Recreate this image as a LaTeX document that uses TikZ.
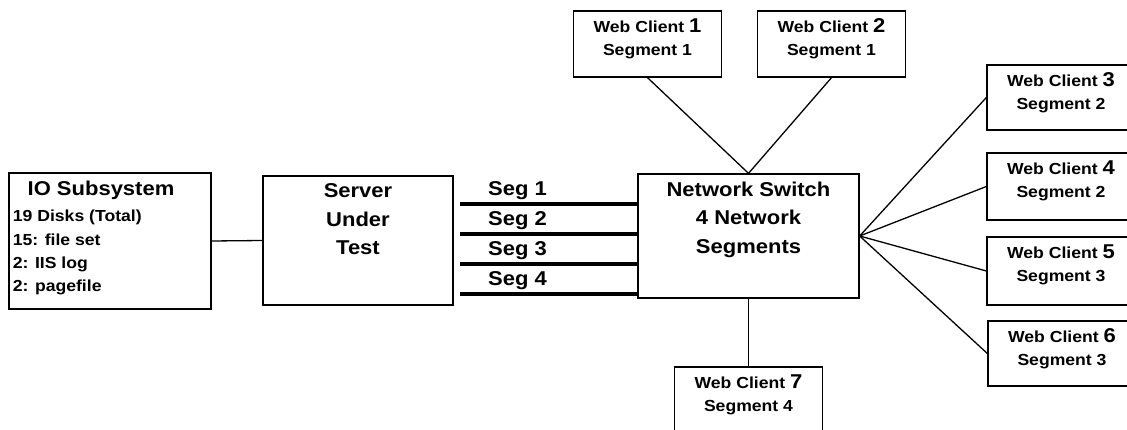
\documentclass[tikz,border=0pt]{standalone}
\usepackage{fontspec}
\setmainfont{Liberation Sans}[FakeStretch=1.1]
\newcommand\digitfont{\fontsize{20}{22}\selectfont\bfseries}
% client box with a two-line caption near its top edge
\newcommand\client[6]{% name, x, y, height, number, segment
  \node[box, minimum width=148pt, minimum height=#4] (#1) at (#2,#3) {};
  \node[small, anchor=base] (#1a) at ([yshift=-22pt]#1.north) {Web Client {\digitfont #5}};
  \node[small, anchor=base] (#1b) at ([yshift=-45pt]#1.north) {Segment #6};
}
\begin{document}
\begin{tikzpicture}[x=1pt, y=-1pt,
  box/.style={draw, line width=1.3pt, inner sep=0pt},
  big/.style={font=\fontsize{20}{24}\selectfont\bfseries, inner sep=0pt},
  small/.style={font=\fontsize{16}{19}\selectfont\bfseries, inner sep=0pt},
  wire/.style={line width=1.3pt},
  segline/.style={line width=3.3pt}]
\useasboundingbox (0,0) rectangle (1127,430);
\clip (0,0) rectangle (1127,430);

% storage subsystem
\node[box, minimum width=202pt, minimum height=136pt] (io) at (110,241) {};
\node[big, anchor=base] (iot) at (101,196) {IO Subsystem};
\node[small, anchor=base west] (io1) at (12.7,222) {19 Disks (Total)};
\node[small, anchor=base west] (io2) at (12.7,246) {15: file set};
\node[small, anchor=base west] (io3) at (12.7,269) {2: IIS log};
\node[small, anchor=base west] (io4) at (12.7,292) {2: pagefile};

% server
\node[box, minimum width=190pt, minimum height=129pt] (srv) at (358,240.5) {};
\node[big, anchor=base] (srv1) at (358,198) {Server};
\node[big, anchor=base] (srv2) at (358,227) {Under};
\node[big, anchor=base] (srv3) at (358,255) {Test};

% switch
\node[box, minimum width=221pt, minimum height=124pt] (sw) at (748.5,236) {};
\node[big, anchor=base] (sw1) at (748.5,197) {Network Switch};
\node[big, anchor=base] (sw2) at (748.5,225) {4 Network};
\node[big, anchor=base] (sw3) at (748.5,254) {Segments};

% network segments between server and switch
\foreach \i/\y in {1/204, 2/234, 3/264, 4/294} {
  \coordinate (s\i) at (460,\y);
  \node[big, anchor=base west] (sl\i) at (488,\y-8) {Seg \i};
  \draw[segline] (s\i) -- (s\i -| sw.west);
}

% web clients
\client{c1}{647.5}{44}{66pt}{1}{1}
\client{c2}{831.5}{44}{66pt}{2}{1}
\client{c3}{1061}{97.5}{65pt}{3}{2}
\client{c4}{1061}{186.5}{67pt}{4}{2}
\client{c5}{1061}{271}{68pt}{5}{3}
\client{c6}{1062}{353.5}{65pt}{6}{3}
\client{c7}{748.5}{401}{68pt}{7}{4}

% connections
\draw[wire] (io.east) -- (srv.west);
\draw[wire] (c1.south) -- (sw.north);
\draw[wire] (c2.south) -- (sw.north);
\draw[wire] (sw.east) -- (c3.west);
\draw[wire] (sw.east) -- (c4.west);
\draw[wire] (sw.east) -- (c5.west);
\draw[wire] (sw.east) -- (c6.west);
\draw[wire] (sw.south) -- (c7.north);
\end{tikzpicture}
\end{document}
